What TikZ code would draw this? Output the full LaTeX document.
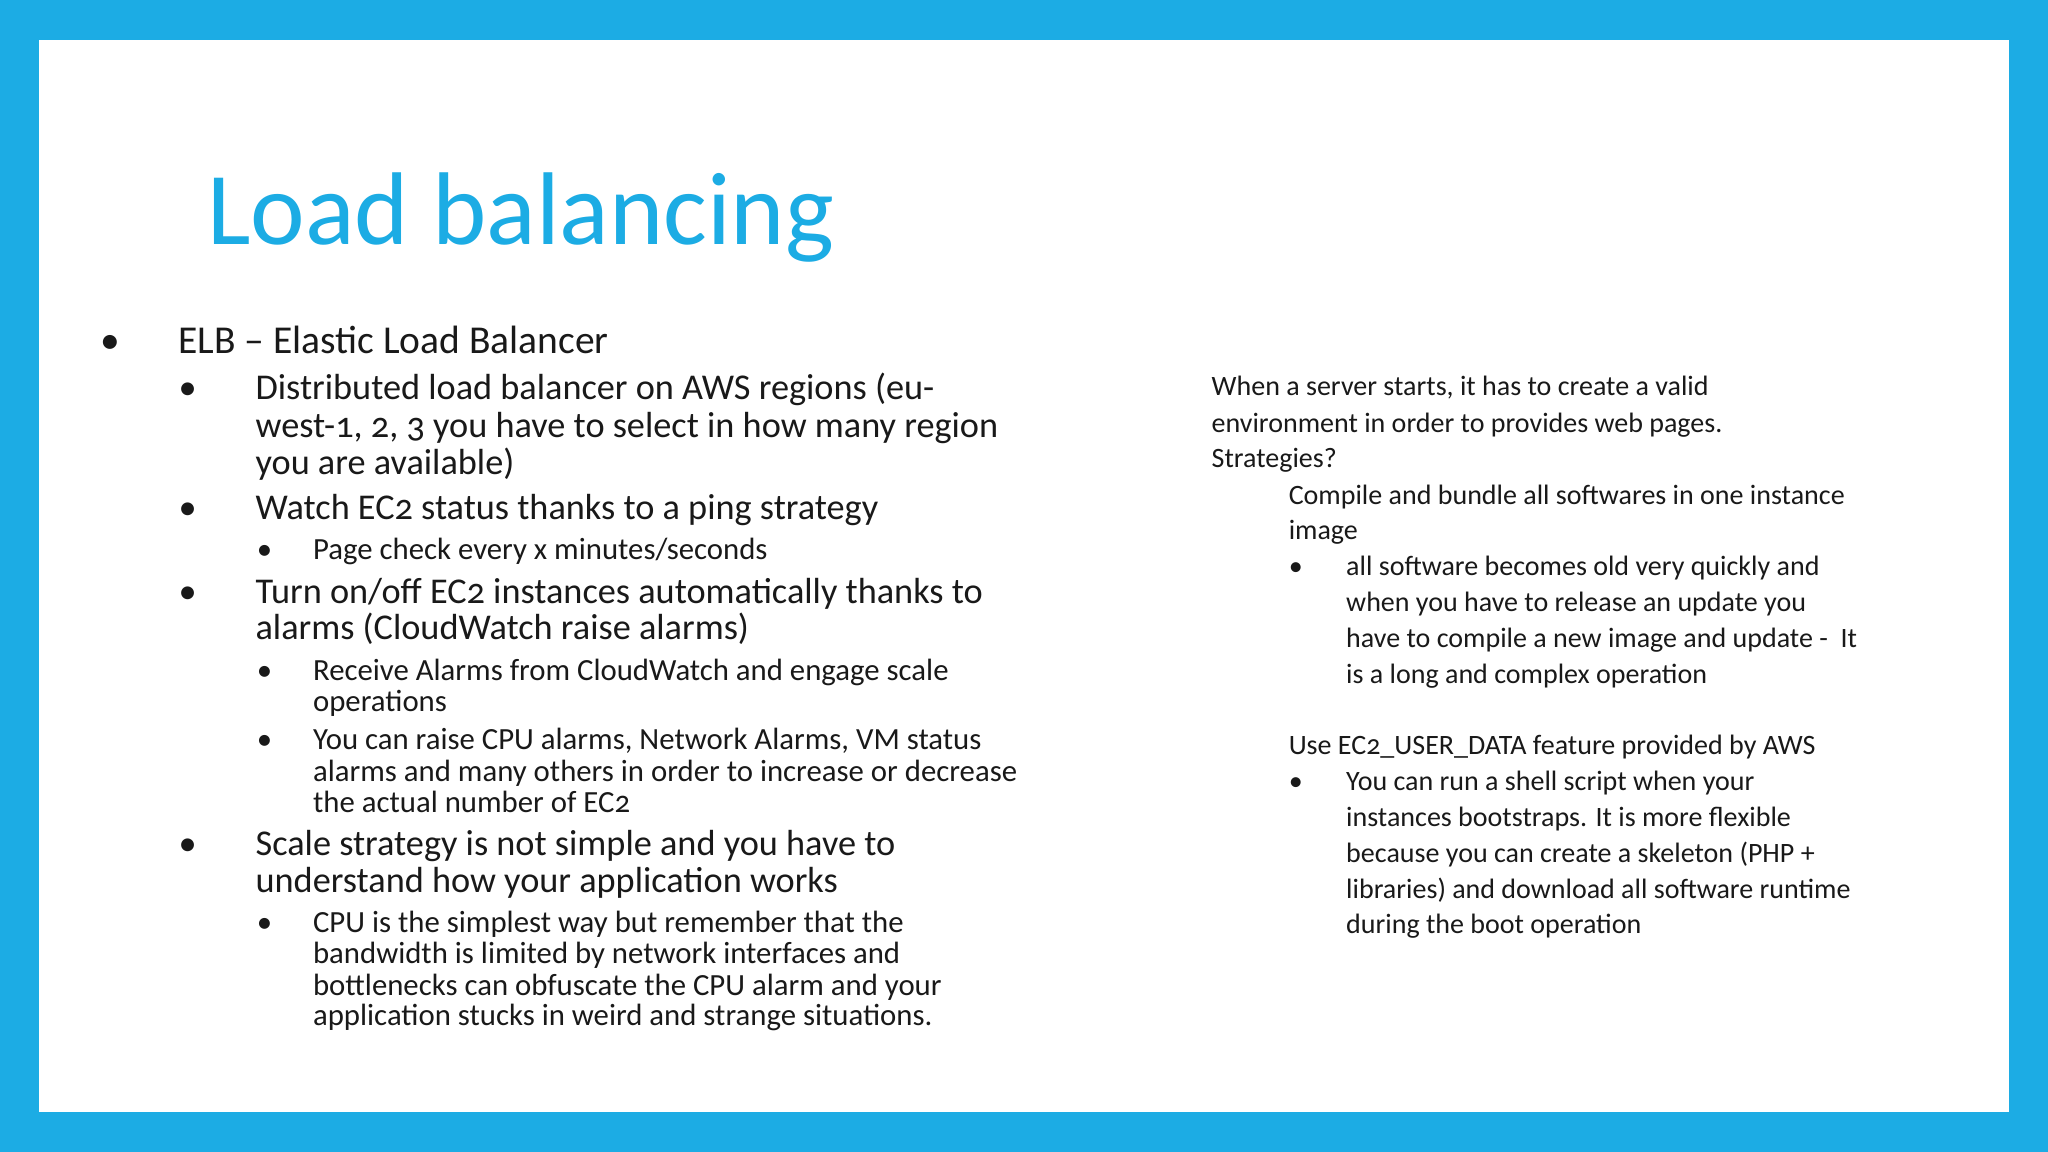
\documentclass[tikz,border=0pt]{standalone}
\usepackage{fontspec}
\setmainfont{Carlito}[Numbers=OldStyle]
\definecolor{frame}{RGB}{28,172,228}
\definecolor{txt}{RGB}{25,25,25}
\tikzset{
  ln/.style={anchor=base west,inner sep=0pt,text=txt},
  la/.style={ln,font=\fontsize{8.6pt}{9pt}\selectfont},
  lb/.style={ln,font=\fontsize{7.9pt}{8pt}\selectfont},
  lc/.style={ln,font=\fontsize{6.7pt}{7pt}\selectfont},
  lr/.style={ln,font=\fontsize{6.1pt}{7pt}\selectfont},
}
\begin{document}
\begin{tikzpicture}[x=0.01cm,y=-0.01cm]
\fill[frame] (0,0) rectangle (1568,882);
\fill[white] (30,31) rectangle (1538,851);
\node[ln,text=frame,font=\fontsize{22.5pt}{24pt}\selectfont] (title) at (158,187) {Load balancing};
% left column
\node[la] (b1) at (76,271) {•}; \node[la] (t1) at (136,271) {ELB – Elastic Load Balancer};
\node[lb] (b2) at (136,306) {•};
\node[lb] (t2a) at (195,306) {Distributed load balancer on AWS regions (eu-};
\node[lb] (t2b) at (195,335) {west-1, 2, 3 you have to select in how many region};
\node[lb] (t2c) at (195,363) {you are available)};
\node[lb] (b3) at (136,398) {•}; \node[lb] (t3) at (195,398) {Watch EC2 status thanks to a ping strategy};
\node[lc] (b4) at (196,428) {•}; \node[lc] (t4) at (239,428) {Page check every x minutes/seconds};
\node[lb] (b5) at (136,462) {•};
\node[lb] (t5a) at (195,462) {Turn on/off EC2 instances automatically thanks to};
\node[lb] (t5b) at (195,490) {alarms (CloudWatch raise alarms)};
\node[lc] (b6) at (196,521) {•};
\node[lc] (t6a) at (239,521) {Receive Alarms from CloudWatch and engage scale};
\node[lc] (t6b) at (239,545) {operations};
\node[lc] (b7) at (196,574) {•};
\node[lc] (t7a) at (239,574) {You can raise CPU alarms, Network Alarms, VM status};
\node[lc] (t7b) at (239,598) {alarms and many others in order to increase or decrease};
\node[lc] (t7c) at (239,622) {the actual number of EC2};
\node[lb] (b8) at (136,655) {•};
\node[lb] (t8a) at (195,655) {Scale strategy is not simple and you have to};
\node[lb] (t8b) at (195,683) {understand how your application works};
\node[lc] (b9) at (196,714) {•};
\node[lc] (t9a) at (239,714) {CPU is the simplest way but remember that the};
\node[lc] (t9b) at (239,738) {bandwidth is limited by network interfaces and};
\node[lc] (t9c) at (239,762) {bottlenecks can obfuscate the CPU alarm and your};
\node[lc] (t9d) at (239,785) {application stucks in weird and strange situations.};
% right column
\node[lr] (r1) at (927,303) {When a server starts, it has to create a valid};
\node[lr] (r2) at (927,331) {environment in order to provides web pages.};
\node[lr] (r3) at (927,358) {Strategies?};
\node[lr] (r4) at (986,386) {Compile and bundle all softwares in one instance};
\node[lr] (r5) at (986,413) {image};
\node[lr] (rb1) at (986,441) {•};
\node[lr] (r6) at (1030,441) {all software becomes old very quickly and};
\node[lr] (r7) at (1030,468) {when you have to release an update you};
\node[lr] (r8) at (1030,496) {have to compile a new image and update -\ \ It};
\node[lr] (r9) at (1030,523) {is a long and complex operation};
\node[lr] (r10) at (986,578) {Use EC2\_USER\_DATA feature provided by AWS};
\node[lr] (rb2) at (986,605) {•};
\node[lr] (r11) at (1030,605) {You can run a shell script when your};
\node[lr] (r12) at (1030,633) {instances bootstraps. It is more flexible};
\node[lr] (r13) at (1030,660) {because you can create a skeleton (PHP +};
\node[lr] (r14) at (1030,688) {libraries) and download all software runtime};
\node[lr] (r15) at (1030,715) {during the boot operation};
\end{tikzpicture}
\end{document}
